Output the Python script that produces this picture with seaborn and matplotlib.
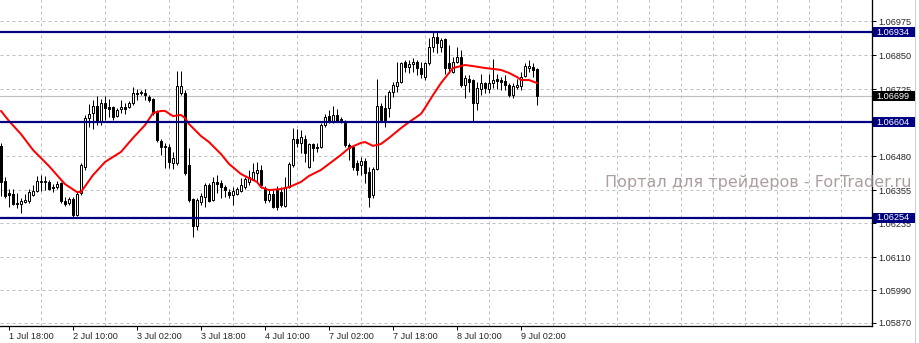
import matplotlib
matplotlib.use("Agg")
import matplotlib.pyplot as plt
import matplotlib.transforms as mtransforms
from matplotlib.patches import Rectangle
from matplotlib.lines import Line2D
import seaborn as sns
import pandas as pd
import numpy as np

# ---------------- data (EURUSD-like H1 candles, bar 0 = 1 Jul 16:00) ----------------
opens = [1.06518,1.06389,1.06346,1.06342,1.06309,1.06305,1.06313,1.06316,1.06338,1.06353,
         1.06386,1.06386,1.06386,1.06367,1.06367,1.06382,1.06316,1.06309,1.06324,1.06265,
         1.06346,1.06441,1.06620,1.06638,1.06664,1.06609,1.06675,1.06660,1.06660,1.06627,
         1.06653,1.06660,1.06660,1.06675,1.06712,1.06712,1.06712,1.06697,1.06690,1.06646,
         1.06536,1.06518,1.06514,1.06455,1.06455,1.06712,1.06712,1.06448,1.06324,1.06225,
         1.06313,1.06331,1.06375,1.06320,1.06386,1.06382,1.06367,1.06349,1.06338,1.06342,
         1.06353,1.06367,1.06386,1.06397,1.06419,1.06430,1.06364,1.06320,1.06342,1.06356,
         1.06349,1.06298,1.06367,1.06448,1.06543,1.06529,1.06543,1.06441,1.06525,1.06514,
         1.06514,1.06594,1.06627,1.06609,1.06631,1.06616,1.06602,1.06521,1.06514,1.06455,
         1.06448,1.06463,1.06422,1.06338,1.06433,1.06664,1.06657,1.06657,1.06715,1.06737,
         1.06752,1.06825,1.06807,1.06818,1.06825,1.06803,1.06770,1.06821,1.06880,1.06916,
         1.06880,1.06909,1.06821,1.06788,1.06825,1.06843,1.06741,1.06763,1.06759,1.06675,
         1.06726,1.06748,1.06726,1.06748,1.06763,1.06759,1.06755,1.06741,1.06704,1.06733,
         1.06737,1.06774,1.06803,1.06807,1.06799]
highs = [1.06529,1.06404,1.06360,1.06360,1.06346,1.06327,1.06342,1.06360,1.06375,1.06408,
         1.06411,1.06408,1.06393,1.06378,1.06389,1.06386,1.06331,1.06331,1.06331,1.06349,
         1.06455,1.06631,1.06671,1.06686,1.06701,1.06690,1.06701,1.06690,1.06664,1.06657,
         1.06686,1.06675,1.06682,1.06734,1.06726,1.06723,1.06726,1.06704,1.06693,1.06649,
         1.06543,1.06529,1.06525,1.06496,1.06792,1.06792,1.06723,1.06510,1.06327,1.06327,
         1.06346,1.06382,1.06382,1.06404,1.06411,1.06393,1.06375,1.06360,1.06367,1.06367,
         1.06400,1.06404,1.06430,1.06455,1.06459,1.06448,1.06371,1.06360,1.06356,1.06371,
         1.06367,1.06404,1.06459,1.06583,1.06580,1.06576,1.06558,1.06529,1.06529,1.06529,
         1.06602,1.06635,1.06649,1.06664,1.06653,1.06624,1.06613,1.06529,1.06521,1.06466,
         1.06477,1.06474,1.06441,1.06441,1.06763,1.06675,1.06704,1.06723,1.06752,1.06825,
         1.06825,1.06832,1.06832,1.06840,1.06832,1.06825,1.06825,1.06913,1.06935,1.06935,
         1.06913,1.06913,1.06887,1.06843,1.06880,1.06869,1.06777,1.06777,1.06763,1.06752,
         1.06781,1.06752,1.06781,1.06836,1.06781,1.06770,1.06777,1.06748,1.06748,1.06763,
         1.06788,1.06821,1.06832,1.06821,1.06803]
lows = [1.06335,1.06327,1.06294,1.06302,1.06291,1.06272,1.06309,1.06309,1.06335,1.06349,
        1.06353,1.06357,1.06357,1.06349,1.06360,1.06309,1.06298,1.06302,1.06258,1.06261,
        1.06338,1.06430,1.06587,1.06580,1.06594,1.06594,1.06613,1.06624,1.06613,1.06624,
        1.06638,1.06635,1.06657,1.06668,1.06686,1.06704,1.06686,1.06679,1.06631,1.06532,
        1.06485,1.06437,1.06437,1.06433,1.06448,1.06704,1.06411,1.06313,1.06185,1.06210,
        1.06302,1.06294,1.06313,1.06316,1.06346,1.06327,1.06331,1.06327,1.06302,1.06338,
        1.06349,1.06360,1.06375,1.06393,1.06386,1.06364,1.06309,1.06313,1.06291,1.06283,
        1.06294,1.06294,1.06364,1.06441,1.06514,1.06492,1.06459,1.06437,1.06463,1.06496,
        1.06510,1.06587,1.06602,1.06602,1.06605,1.06602,1.06514,1.06466,1.06430,1.06411,
        1.06411,1.06382,1.06294,1.06327,1.06430,1.06605,1.06587,1.06624,1.06697,1.06715,
        1.06748,1.06788,1.06785,1.06788,1.06777,1.06766,1.06759,1.06814,1.06862,1.06858,
        1.06862,1.06781,1.06785,1.06785,1.06821,1.06733,1.06693,1.06715,1.06609,1.06649,
        1.06704,1.06712,1.06712,1.06730,1.06726,1.06723,1.06723,1.06697,1.06693,1.06726,
        1.06723,1.06770,1.06788,1.06770,1.06668]
closes = [1.06386,1.06335,1.06338,1.06305,1.06305,1.06316,1.06320,1.06349,1.06353,1.06389,
          1.06389,1.06389,1.06360,1.06364,1.06378,1.06316,1.06305,1.06324,1.06265,1.06342,
          1.06448,1.06620,1.06635,1.06664,1.06605,1.06675,1.06657,1.06653,1.06624,1.06649,
          1.06660,1.06653,1.06675,1.06712,1.06708,1.06715,1.06704,1.06686,1.06638,1.06540,
          1.06514,1.06514,1.06459,1.06474,1.06737,1.06737,1.06418,1.06320,1.06225,1.06320,
          1.06335,1.06375,1.06316,1.06386,1.06378,1.06367,1.06356,1.06338,1.06353,1.06360,
          1.06375,1.06397,1.06404,1.06422,1.06430,1.06375,1.06320,1.06342,1.06294,1.06294,
          1.06302,1.06367,1.06452,1.06543,1.06529,1.06551,1.06492,1.06525,1.06510,1.06510,
          1.06594,1.06624,1.06609,1.06631,1.06609,1.06613,1.06521,1.06510,1.06441,1.06430,
          1.06463,1.06419,1.06331,1.06433,1.06664,1.06613,1.06613,1.06715,1.06741,1.06752,
          1.06821,1.06807,1.06818,1.06825,1.06803,1.06781,1.06821,1.06880,1.06916,1.06894,
          1.06905,1.06803,1.06803,1.06825,1.06843,1.06741,1.06766,1.06752,1.06675,1.06730,
          1.06748,1.06730,1.06748,1.06759,1.06755,1.06752,1.06741,1.06704,1.06737,1.06741,
          1.06770,1.06810,1.06810,1.06796,1.06699]

# moving average (bar index -> value)
ma_idx = [0, 2, 5, 8, 12, 16, 19, 20, 23, 26, 30, 33, 36, 38, 40, 41, 43, 45, 46, 47,
          50, 52, 55, 57, 60, 62, 64, 65, 67, 70, 72, 75, 77, 80, 82, 85, 87, 90, 91, 93,
          95, 97, 100, 102, 105, 106, 108, 110, 112, 113, 116, 118, 121, 125, 127, 129,
          130, 132, 134]
ma_vals = [1.06646, 1.06609, 1.06561, 1.06503, 1.06444, 1.06378, 1.06349, 1.06349, 1.06411,
           1.06459, 1.06496, 1.06547, 1.06594, 1.06638, 1.06646, 1.06646, 1.06627, 1.06631,
           1.06620, 1.06598, 1.06554, 1.06532, 1.06488, 1.06452, 1.06415, 1.06400, 1.06386,
           1.06367, 1.06356, 1.06360, 1.06367, 1.06386, 1.06408, 1.06430, 1.06452, 1.06485,
           1.06510, 1.06529, 1.06532, 1.06518, 1.06525, 1.06547, 1.06583, 1.06605, 1.06635,
           1.06657, 1.06704, 1.06748, 1.06785, 1.06803, 1.06814, 1.06810, 1.06803, 1.06796,
           1.06785, 1.06770, 1.06759, 1.06759, 1.06748]

levels = [1.06934, 1.06604, 1.06254]
bid_price = 1.06699

price_ticks = [1.06975, 1.06850, 1.06725, 1.06605, 1.06480, 1.06355, 1.06235,
               1.06110, 1.05990, 1.05870]
price_labels = ["1.06975", "1.06850", "1.06725", "", "1.06480", "1.06355",
                "1.06235", "1.06110", "1.05990", "1.05870"]
date_ticks = [2, 18, 34, 50, 66, 82, 98, 114, 130]
date_labels = ["1 Jul 18:00", "2 Jul 10:00", "3 Jul 02:00", "3 Jul 18:00", "4 Jul 10:00",
               "7 Jul 02:00", "7 Jul 18:00", "8 Jul 10:00", "9 Jul 02:00"]
watermark = "Портал для трейдеров - ForTrader.ru"

# ---------------- style ----------------
sns.set_style("white")
plt.rcParams['font.family'] = ['Liberation Sans', 'DejaVu Sans']

W, H = 920, 343
fig = plt.figure(figsize=(W / 100, H / 100), dpi=100)
fig.patch.set_facecolor("white")
ax = fig.add_axes([0, 17 / H, 872 / W, 326 / H])
ax.set_facecolor("white")

PX = 1 / 1.389  # one pixel in points
ax.set_xlim(-0.25, 217.75)
ax.set_ylim(1.058587, 1.070519)

# grid
ax.set_xticks(date_ticks)
ax.set_xticklabels(date_labels)
ax.set_xticks(list(range(2, 218, 8)), minor=True)
ax.set_yticks(price_ticks)
ax.set_yticklabels(price_labels)
ax.yaxis.tick_right()
ax.set_axisbelow(True)
ax.grid(False)
ax.xaxis.grid(True, which='minor', color='#c0c0c0', linestyle=(0, (3, 3)), linewidth=PX)
ax.yaxis.grid(True, which='major', color='#c0c0c0', linestyle=(0, (3, 3)), linewidth=PX)
ax.tick_params(axis='x', which='major', direction='out', length=3, width=PX,
               color='black', labelsize=6.6, pad=1.5, bottom=True)
ax.tick_params(axis='x', which='minor', length=0)
ax.tick_params(axis='y', which='major', direction='out', length=3, width=PX,
               color='black', labelsize=6.6, pad=1.5, right=True, left=False)
for lbl in ax.get_xticklabels():
    lbl.set_horizontalalignment('left')

for s in ['top', 'left']:
    ax.spines[s].set_visible(False)
for s in ['right', 'bottom']:
    ax.spines[s].set_color('black')
    ax.spines[s].set_linewidth(1.3 * PX)

# bid line
ax.axhline(bid_price, color='#c0c0c0', linewidth=1.2 * PX, zorder=1.6)

# candles
idx = np.arange(len(opens))
o = np.array(opens); h = np.array(highs); l = np.array(lows); c = np.array(closes)
ax.vlines(idx, l, h, color='black', linewidth=PX, zorder=2)
bull = c >= o
ax.bar(idx[bull], (c - o)[bull], bottom=o[bull], width=0.5, color='white',
       edgecolor='black', linewidth=PX, zorder=3)
ax.bar(idx[~bull], (o - c)[~bull], bottom=c[~bull], width=0.5, color='black',
       edgecolor='black', linewidth=PX, zorder=3)

# moving average via seaborn
ma_df = pd.DataFrame({"bar": ma_idx, "ma": ma_vals})
sns.lineplot(data=ma_df, x="bar", y="ma", ax=ax, color='#ff0000',
             linewidth=2 * PX, zorder=4)
ax.set_xlabel("")
ax.set_ylabel("")

# horizontal levels
for lv in levels:
    ax.axhline(lv, color='#000080', linewidth=2.2 * PX, zorder=5)

# price boxes
trans = mtransforms.blended_transform_factory(ax.transAxes, ax.transData)
half = 5 * 0.0000366
boxes = [(lv, '#000080') for lv in levels] + [(bid_price, 'black')]
for val, col in boxes:
    ax.add_patch(Rectangle((873 / 872, val - half), 43 / 872, 2 * half,
                           transform=trans, facecolor=col, edgecolor='none',
                           clip_on=False, zorder=6))
    ax.text(876 / 872, val, f"{val:.5f}", transform=trans, color='white',
            fontsize=6.6, va='center', ha='left', clip_on=False, zorder=7)

# watermark
fig.text(605 / W, (H - 187) / H, watermark, fontsize=11.5, color='#ad9e9e',
         family=['DejaVu Sans'], va='baseline', ha='left', zorder=10)

# window edge line on the far right
fig.add_artist(Line2D([915.5 / W, 915.5 / W], [0, 1], color='#cfcfcf',
                      linewidth=PX, transform=fig.transFigure))

fig.savefig("out.png", dpi=100, facecolor="white")
